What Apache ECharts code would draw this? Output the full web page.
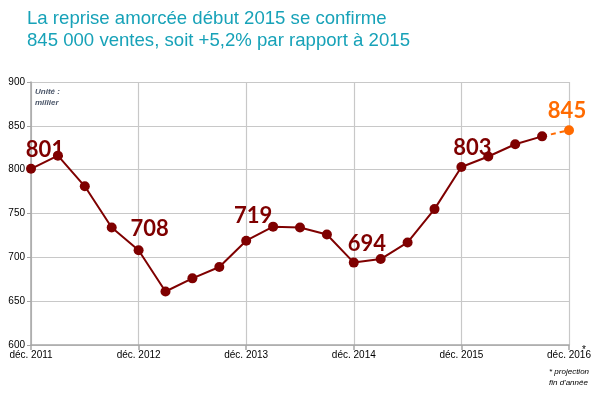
<!DOCTYPE html>
<html>
<head>
<meta charset="utf-8">
<script src="https://cdn.jsdelivr.net/npm/echarts@6/dist/echarts.min.js"></script>
<style>
html,body{margin:0;padding:0;background:#fff;}
#c{width:596px;height:396px;}
</style>
</head>
<body>
<div id="c"></div>
<script>
var categories = ['déc. 2011','mars 2012','juin 2012','sept. 2012',
  'déc. 2012','mars 2013','juin 2013','sept. 2013',
  'déc. 2013','mars 2014','juin 2014','sept. 2014',
  'déc. 2014','mars 2015','juin 2015','sept. 2015',
  'déc. 2015','mars 2016','juin 2016','sept. 2016',
  'déc. 2016'];
var ventes = [801,816,781,734, 708,661,676,689, 719,735,734,726, 694,698,717,755, 803,815,829,838, null];
var projection = [null,null,null,null, null,null,null,null, null,null,null,null, null,null,null,null, null,null,null,838,845];
var labelledIdx = [0,4,8,12,16];
var yTicks = {min:600, max:900, step:50};
var titleLines = ['La reprise amorcée début 2015 se confirme', '845 000 ventes, soit +5,2% par rapport à 2015'];

var labelOffsets = {0:[14,2],4:[11,0],8:[7,-4],12:[13,2],16:[11,2]};
var mainData = ventes.map(function(v,i){
  if (v === null) return null;
  if (labelledIdx.indexOf(i) >= 0) {
    return {value:v, label:{show:true, position:'top', offset:labelOffsets[i], formatter:'{c}',
      color:'#7f0000', fontSize:22, fontWeight:'bold', fontFamily:'Lato'}};
  }
  return v;
});
var projData = projection.map(function(v,i){
  if (v === null) return null;
  if (i === projection.length-1) {
    return {value:v, symbol:'circle', symbolSize:10,
      label:{show:true, position:'top', offset:[-2,2], formatter:'{c}', color:'#ff6a00', fontSize:22, fontWeight:'bold', fontFamily:'Lato'}};
  }
  return {value:v, symbol:'none'};
});

var chart = echarts.init(document.getElementById('c'), null, {renderer:'canvas'});
chart.setOption({
  animation:false,
  title:{
    text: titleLines.join('\n'),
    left:22, top:3,
    textStyle:{color:'#17a2b8', fontSize:18.6, fontWeight:'normal', fontFamily:'Liberation Sans', lineHeight:22}
  },
  grid:{left:31, right:27, top:82, bottom:51, containLabel:false},
  xAxis:{
    type:'category', data:categories, boundaryGap:false,
    axisLine:{lineStyle:{color:'#a6a6a6', width:1.5}},
    axisTick:{show:true, interval:3, length:5, lineStyle:{color:'#a6a6a6', width:1.5}},
    axisLabel:{interval:3, color:'#000', fontSize:10, fontFamily:'Liberation Sans', margin:5},
    splitLine:{show:true, interval:3, lineStyle:{color:'#c8c8c8', width:1.2}}
  },
  yAxis:{
    type:'value', min:yTicks.min, max:yTicks.max, interval:yTicks.step,
    axisLine:{show:true, lineStyle:{color:'#a6a6a6', width:1.5}},
    axisTick:{show:true, length:4, lineStyle:{color:'#a6a6a6'}},
    axisLabel:{color:'#000', fontSize:10, fontFamily:'Liberation Sans', margin:6},
    splitLine:{show:true, lineStyle:{color:'#c8c8c8', width:1.2}}
  },
  graphic:[
    {type:'text', left:35, top:86, style:{text:'Unité :\nmillier', fill:'#4a5568', fontSize:8, fontStyle:'italic', fontWeight:'bold', fontFamily:'Liberation Sans', lineHeight:11}},
    {type:'text', left:582, top:345, style:{text:'*', fill:'#000', fontSize:10, fontFamily:'Liberation Sans'}},
    {type:'text', left:549, top:366, style:{text:'* projection\nfin d\'année', fill:'#000', fontSize:8, fontStyle:'italic', fontFamily:'Liberation Sans', lineHeight:11}}
  ],
  series:[
    {type:'line', data:mainData, symbol:'circle', symbolSize:10,
      lineStyle:{color:'#7f0000', width:2}, itemStyle:{color:'#7f0000'}, z:3},
    {type:'line', data:projData, connectNulls:false,
      lineStyle:{color:'#ff6a00', width:2, type:[5,4]}, itemStyle:{color:'#ff6a00'}, z:2}
  ]
});
</script>
</body>
</html>
